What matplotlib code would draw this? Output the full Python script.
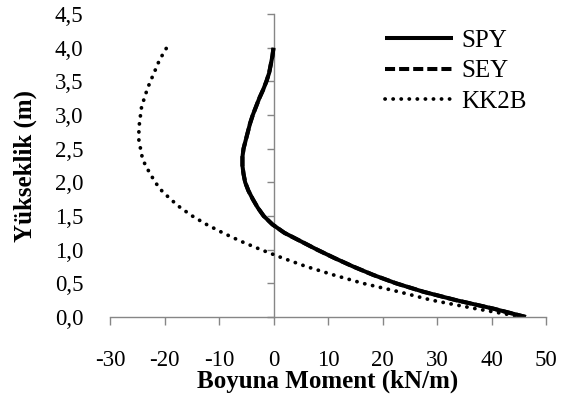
import matplotlib
matplotlib.use("Agg")
import matplotlib.pyplot as plt
from matplotlib.ticker import FuncFormatter

plt.rcParams['font.family'] = ['Liberation Serif', 'DejaVu Serif']
plt.rcParams['axes.unicode_minus'] = False

# heights (m) and moments (kN/m)
heights = [0.0, 0.125, 0.25, 0.375, 0.5, 0.625, 0.75, 0.875, 1.0, 1.125,
           1.25, 1.375, 1.5, 1.625, 1.75, 1.875, 2.0, 2.125, 2.25, 2.375,
           2.5, 2.625, 2.75, 2.875, 3.0, 3.125, 3.25, 3.375, 3.5, 3.625,
           3.75, 3.875, 4.0]
spy = [46.3, 40.3, 33.5, 27.5, 22.5, 18.3, 14.6, 11.2, 8.0, 5.0,
       2.0, -0.2, -1.8, -2.9, -3.8, -4.6, -5.2, -5.5, -5.7, -5.7,
       -5.5, -5.1, -4.7, -4.3, -3.8, -3.2, -2.6, -1.9, -1.3, -0.8,
       -0.5, -0.2, 0.0]
sey = [46.3, 40.3, 33.5, 27.5, 22.5, 18.3, 14.6, 11.2, 8.0, 5.0,
       2.0, -0.2, -1.8, -2.9, -3.8, -4.6, -5.2, -5.5, -5.7, -5.7,
       -5.5, -5.1, -4.7, -4.3, -3.8, -3.2, -2.6, -1.9, -1.3, -0.8,
       -0.5, -0.2, 0.0]
kk2b = [45.7, 37.0, 29.0, 23.0, 16.4, 11.0, 6.0, 1.7, -2.3, -6.0,
        -9.3, -12.3, -14.9, -17.1, -18.9, -20.5, -21.7, -22.6, -23.5, -24.1,
        -24.4, -24.7, -24.7, -24.6, -24.4, -24.2, -23.7, -23.2, -22.6, -21.9,
        -21.3, -20.5, -19.6]

x_ticks = [-30, -20, -10, 0, 10, 20, 30, 40, 50]
y_ticks = [0.0, 0.5, 1.0, 1.5, 2.0, 2.5, 3.0, 3.5, 4.0, 4.5]

gray = '#868686'

fig = plt.figure(figsize=(5.65, 3.98), dpi=100)
ax = fig.add_axes([110/565, 1 - 317/398, 436/565, 303/398])

ax.plot(spy, heights, color='black', lw=2.9, label='SPY', solid_capstyle='butt')
ax.plot(sey, heights, color='black', lw=2.9, linestyle=(0, (2.5, 1.0)), label='SEY')
ax.plot(kk2b, heights, color='black', lw=2.7, linestyle=(0, (0.05, 2.1)),
        dash_capstyle='round', label='KK2B')

ax.set_xlim(-30, 50)
ax.set_ylim(0, 4.5)
ax.set_xticks(x_ticks)
ax.set_yticks(y_ticks)
ax.yaxis.set_major_formatter(FuncFormatter(lambda v, p: f'{v:.1f}'.replace('.', ',')))

for s in ['top', 'right', 'left']:
    ax.spines[s].set_visible(False)
ax.spines['bottom'].set_color(gray)
ax.spines['bottom'].set_linewidth(1.0)
ax.tick_params(axis='x', direction='out', length=6, width=1.0, color=gray,
               labelsize=16.5, pad=18)
ax.tick_params(axis='y', length=0, labelsize=16.5, pad=19)

# vertical axis line at x = 0 with its own ticks
sec = ax.secondary_yaxis(30/80)
sec.set_yticks(y_ticks)
sec.tick_params(axis='y', direction='out', length=5, width=1.0, color=gray,
                labelleft=False, labelright=False)
for s in sec.spines.values():
    s.set_color(gray)
    s.set_linewidth(1.0)

ax.set_xlabel('Boyuna Moment (kN/m)', fontsize=18, fontweight='bold', labelpad=-1)
ax.set_ylabel('Yükseklik (m)', fontsize=18, fontweight='bold', labelpad=13)

ax.legend(loc='upper left', bbox_to_anchor=(0.63, 0.95), frameon=False,
          fontsize=18, handlelength=2.75, handletextpad=0.33, labelspacing=0.33,
          borderpad=0, borderaxespad=0)

fig.savefig('out.png', dpi=100)
